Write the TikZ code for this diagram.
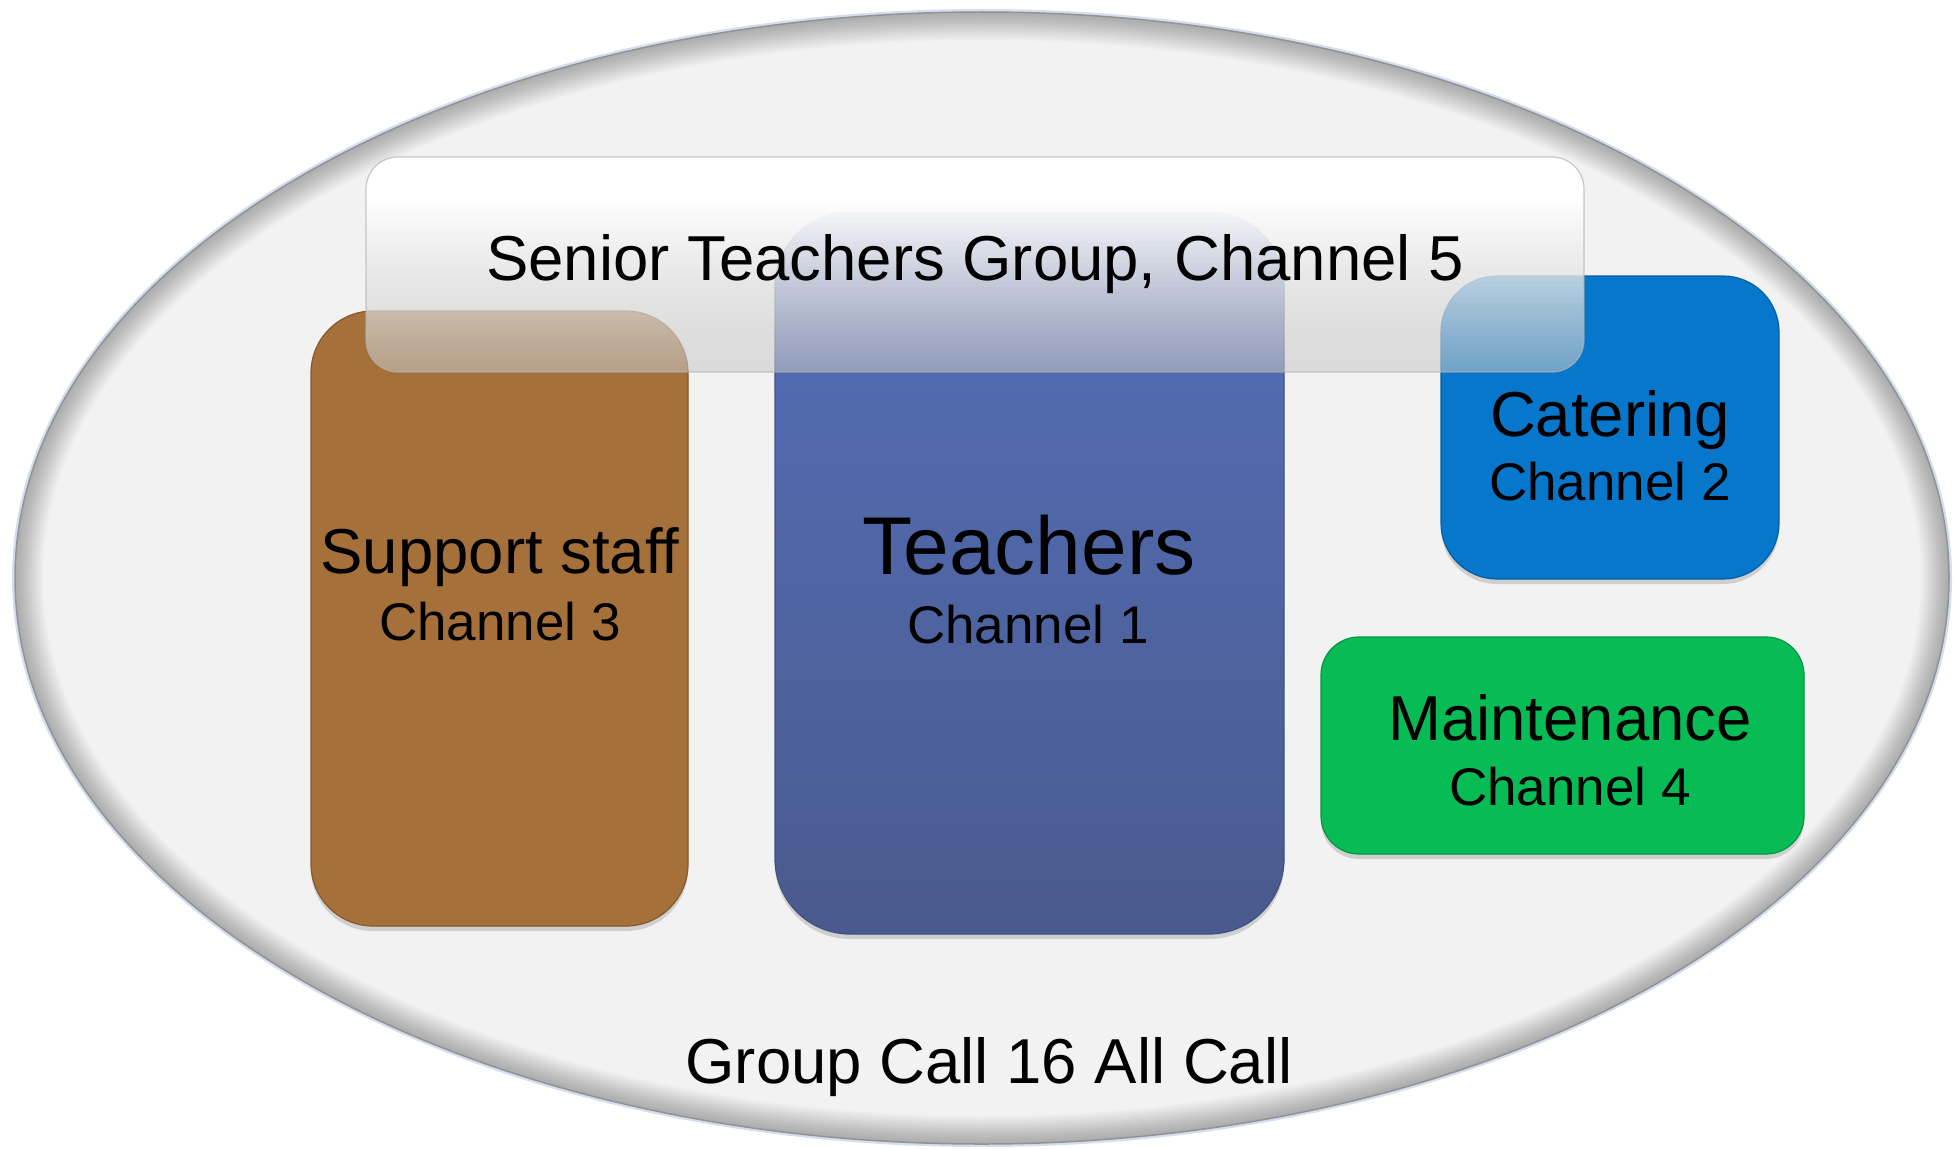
\documentclass[tikz,border=0pt]{standalone}
\usepackage{fontspec}
\setmainfont{Liberation Sans}
\usetikzlibrary{shadows}
\definecolor{ellfill}{HTML}{F2F2F2}
\definecolor{ellhalo}{HTML}{D5DEEE}
\definecolor{brownbox}{HTML}{A57039}
\definecolor{teachtop}{HTML}{5470BA}
\definecolor{teachbot}{HTML}{4A5A8E}
\definecolor{cateringc}{HTML}{0777CC}
\definecolor{maintc}{HTML}{07BB55}
\tikzset{
  box/.style={rectangle, inner sep=0pt, line width=1.2pt,
    drop shadow={opacity=0.3, shadow xshift=0pt, shadow yshift=-5pt}},
  bigtxt/.style={font=\fontsize{63.5}{70}\selectfont, inner sep=0pt, anchor=base, text=black},
  chtxt/.style={font=\fontsize{53}{60}\selectfont, inner sep=0pt, anchor=base, text=black},
  hugetxt/.style={font=\fontsize{82}{90}\selectfont, inner sep=0pt, anchor=base, text=black},
}
\begin{document}
\begin{tikzpicture}[x=1pt, y=-1pt]
\useasboundingbox (0,0) rectangle (1958,1148);
% outer ellipse
\draw[ellhalo, line width=4pt] (982,578) ellipse [x radius=968, y radius=567];
\begin{scope}
  \clip (982,578) ellipse [x radius=967, y radius=566];
  \fill[ellfill] (982,578) ellipse [x radius=967, y radius=566];
  \foreach \w in {2,5,...,56}
    \draw[black, opacity=0.017, line width=\w pt] (982,578) ellipse [x radius=967, y radius=566];
\end{scope}
\draw[gray!85, line width=1.5pt] (982,578) ellipse [x radius=967, y radius=566];
\coordinate (ell) at (982,578);

% group boxes
\node[box, fill=brownbox, draw=brownbox!80!black, minimum width=377pt, minimum height=615pt, rounded corners=62pt] (support) at (499.5,618.5) {};
\node[box, top color=teachtop, bottom color=teachbot, draw=teachbot!90!black, minimum width=509pt, minimum height=722pt, rounded corners=75pt] (teachers) at (1029.5,573) {};
\node[box, fill=cateringc, draw=cateringc!80!black, minimum width=338pt, minimum height=303pt, rounded corners=56pt] (catering) at (1610,427.5) {};
\node[box, fill=maintc, draw=maintc!80!black, minimum width=483pt, minimum height=217pt, rounded corners=38pt] (maint) at (1562.5,745.5) {};

% senior overlay: opaque white at top, translucent gray towards the bottom
\begin{scope}
  \clip[rounded corners=32pt] (366,157) rectangle (1584,372);
  \foreach \i in {0,...,42}{
    \pgfmathsetmacro{\tt}{(\i+0.5)/43}
    \pgfmathsetmacro{\ss}{max(0,(\tt-0.2)/0.8)}
    \pgfmathsetmacro{\aa}{1-0.45*\ss}
    \pgfmathsetmacro{\gg}{100-22*\ss}
    \fill[white!\gg!black, fill opacity=\aa] (366,157+5*\i) rectangle (1584,162+5*\i);
  }
\end{scope}
\node[rectangle, inner sep=0pt, draw=gray!60, draw opacity=0.7, line width=1.2pt,
  minimum width=1218pt, minimum height=215pt, rounded corners=32pt] (senior) at (975,264.5) {};

% labels
\node[bigtxt] (seniortxt) at (975,280) {Senior Teachers Group, Channel 5};
\node[bigtxt] (supporttxt) at (500,573) {Support staff};
\node[chtxt] (ch3) at (500,640) {Channel 3};
\node[hugetxt] (teachtxt) at (1029,574) {Teachers};
\node[chtxt] (ch1) at (1028,643) {Channel 1};
\node[bigtxt] (cattxt) at (1610,436) {Catering};
\node[chtxt] (ch2) at (1610,500) {Channel 2};
\node[bigtxt] (mainttxt) at (1570,740) {Maintenance};
\node[chtxt] (ch4) at (1570,805) {Channel 4};
\node[bigtxt] (alltxt) at (989,1083) {Group Call 16 All Call};
\end{tikzpicture}
\end{document}
